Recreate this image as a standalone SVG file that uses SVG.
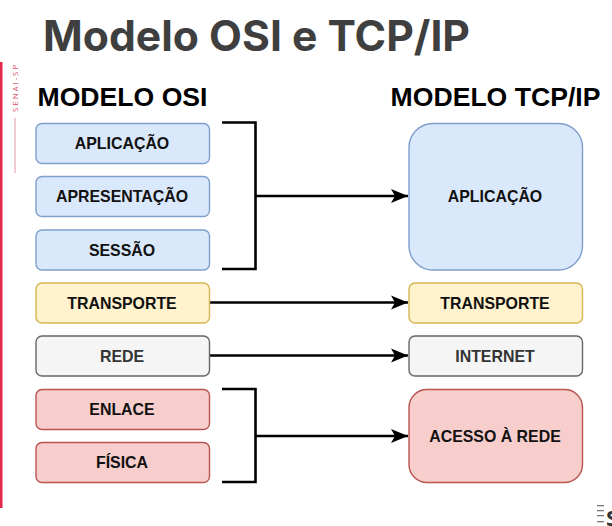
<svg xmlns="http://www.w3.org/2000/svg" width="612" height="526" viewBox="0 0 612 526">
<style>
.b{stroke-width:1.4}
.blue{fill:#dae8fc;stroke:#7f9fcb}
.yel{fill:#fff2cc;stroke:#d6b656}
.gry{fill:#f5f5f5;stroke:#666}
.red{fill:#f8cecc;stroke:#b85450}
.l{font:bold 15.9px "Liberation Sans",Arial,sans-serif;text-anchor:middle;fill:#111}
.h{font:bold 26.6px "Liberation Sans",Arial,sans-serif;text-anchor:middle;fill:#000}
.c{fill:none;stroke:#000;stroke-width:2.6}
</style>
<defs><marker id="a" markerUnits="userSpaceOnUse" markerWidth="18" markerHeight="16" refX="17" refY="8" orient="auto"><path d="M0 1L17 8L0 15L4 8Z" fill="#000"/></marker></defs>
<rect width="612" height="526" fill="#fff"/>
<text x="43" y="51" textLength="427" lengthAdjust="spacingAndGlyphs" style="font:700 42px Inter,'Open Sans',sans-serif" fill="#3f3f3f">Modelo OSI e TCP/IP</text>
<rect x="0" y="62" width="2.500" height="446" fill="#e0294a"/>
<text transform="translate(18,112) rotate(-90)" style="font:8px 'Open Sans',sans-serif;letter-spacing:1.9px" fill="#d9546c">SENAI-SP</text>
<rect x="14.500" y="118" width="1" height="55" fill="#e59aa8"/>
<text class="h" x="122.500" y="106">MODELO OSI</text>
<text class="h" x="495.500" y="106">MODELO TCP/IP</text>
<g id="connectors">
<path class="c" d="M222 122.500H255.500V269H222"/>
<path class="c" d="M255 196H408" marker-end="url(#a)"/>
<path class="c" d="M210 302.500H408" marker-end="url(#a)"/>
<path class="c" d="M210 355.500H408" marker-end="url(#a)"/>
<path class="c" d="M222 389H255.500V482H222"/>
<path class="c" d="M255 436H408" marker-end="url(#a)"/>
</g>
<g id="osi-aplicacao"><rect class="b blue" x="36" y="123.500" width="173.500" height="40" rx="6"/><text class="l" x="122" y="149">APLICAÇÃO</text></g>
<g id="osi-apresentacao"><rect class="b blue" x="36" y="176.500" width="173.500" height="40" rx="6"/><text class="l" x="122" y="202">APRESENTAÇÃO</text></g>
<g id="osi-sessao"><rect class="b blue" x="36" y="230" width="173.500" height="40" rx="6"/><text class="l" x="122" y="255.500">SESSÃO</text></g>
<g id="osi-transporte"><rect class="b yel" x="36" y="283" width="173.500" height="40" rx="6"/><text class="l" x="122" y="308.500">TRANSPORTE</text></g>
<g id="osi-rede"><rect class="b gry" x="36" y="336" width="173.500" height="40" rx="6"/><text class="l" x="122" y="361.500" style="fill:#333">REDE</text></g>
<g id="osi-enlace"><rect class="b red" x="36" y="389.500" width="173.500" height="40" rx="6"/><text class="l" x="122" y="415">ENLACE</text></g>
<g id="osi-fisica"><rect class="b red" x="36" y="442.500" width="173.500" height="40" rx="6"/><text class="l" x="122" y="468">FÍSICA</text></g>
<g id="tcp-aplicacao"><rect class="b blue" x="409" y="123.500" width="173.500" height="146.500" rx="24"/><text class="l" x="495" y="202">APLICAÇÃO</text></g>
<g id="tcp-transporte"><rect class="b yel" x="409" y="283" width="173.500" height="40" rx="6"/><text class="l" x="495" y="308.500">TRANSPORTE</text></g>
<g id="tcp-internet"><rect class="b gry" x="409" y="336" width="173.500" height="40" rx="6"/><text class="l" x="495" y="361.500" style="fill:#333">INTERNET</text></g>
<g id="tcp-acesso"><rect class="b red" x="409" y="389.500" width="173.500" height="93" rx="18"/><text class="l" x="495" y="442">ACESSO À REDE</text></g>
<g fill="#777"><rect x="597" y="505" width="7" height="1.300"/><rect x="597" y="510" width="7" height="1.300"/><rect x="597" y="515" width="7" height="1.300"/><rect x="597" y="521" width="7" height="1.300"/></g>
<text x="606" y="526" style="font:bold 22px 'Open Sans',sans-serif" fill="#333">S</text>
</svg>
